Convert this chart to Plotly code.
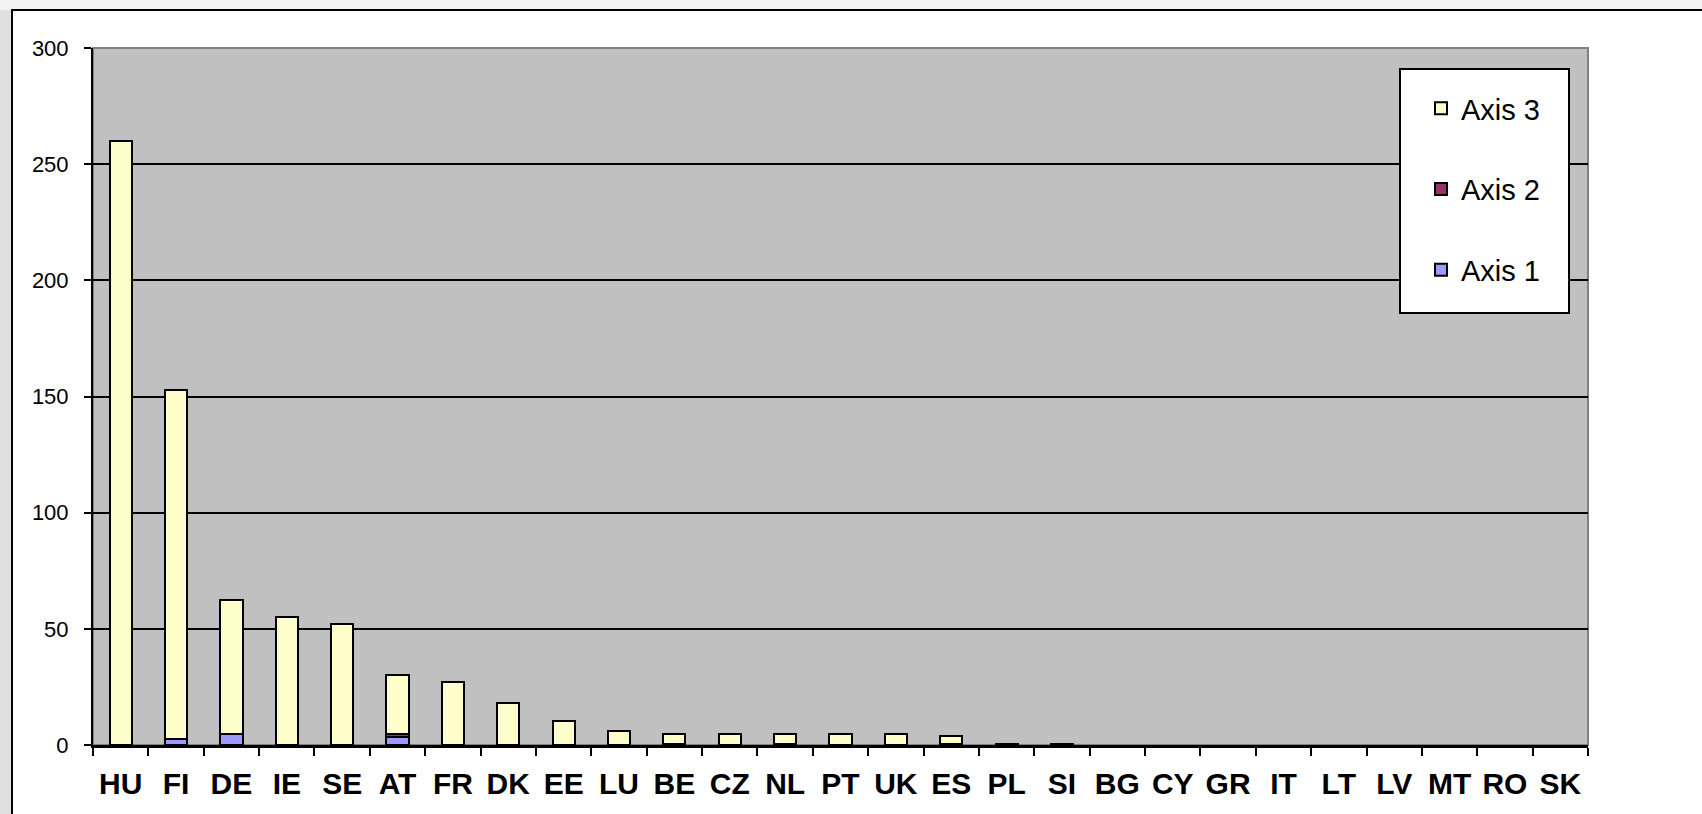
import plotly.graph_objects as go

countries = ["HU", "FI", "DE", "IE", "SE", "AT", "FR", "DK", "EE", "LU", "BE", "CZ", "NL",
             "PT", "UK", "ES", "PL", "SI", "BG", "CY", "GR", "IT", "LT", "LV", "MT", "RO", "SK"]
N = None  # no value reported
axis1 = [N, 2.7, 4.8, N, N, 3.4, N, N, N, N, N, N, N, N, N, N, N, N, N, N, N, N, N, N, N, N, N]
axis2 = [N, N, N, N, N, 1.4, N, N, N, N, 0.5, N, 0.5, N, N, 0.5, 0.3, 0.3, N, N, N, N, N, N, N, N, N]
axis3 = [260, 150, 57.4, 55, 52, 25.4, 27, 18.2, 10.3, 6.2, 4.2, 4.7, 4.2, 4.7, 4.7, 3.5, N, N,
         N, N, N, N, N, N, N, N, N]

series_names = ["Axis 1", "Axis 2", "Axis 3"]
series_values = [axis1, axis2, axis3]
series_colors = ["#9999ff", "#993366", "#ffffcc"]
legend_ranks = [3, 2, 1]

W, H = 1702, 814
L, R, T, B = 93, 114, 48, 69
pw, ph = W - L - R, H - T - B


def px_x(p):
    return (p - L) / pw


def px_y(p):
    return (H - B - p) / ph


FONT = "Liberation Sans, Arial, sans-serif"

fig = go.Figure()
for name, vals, col, rk in zip(series_names, series_values, series_colors, legend_ranks):
    fig.add_trace(go.Bar(
        x=countries, y=vals, name=name, legendgroup=name, legendrank=rk,
        marker=dict(color=col, line=dict(color="black", width=2)),
        width=0.40,
    ))

shapes = [
    # outer grey margins
    dict(type="rect", xref="paper", yref="paper", x0=-1, x1=px_x(12), y0=-1, y1=2,
         fillcolor="#e0e0e0", line=dict(width=0), layer="below"),
    dict(type="rect", xref="paper", yref="paper", x0=-1, x1=2, y0=px_y(10), y1=2,
         fillcolor="#f3f3f3", line=dict(width=0), layer="below"),
    # chart frame
    dict(type="rect", xref="paper", yref="paper", x0=px_x(12), x1=1.5, y0=-0.5, y1=px_y(10),
         fillcolor="rgba(0,0,0,0)", line=dict(color="black", width=2), layer="below"),
    # plot area border (grey)
    dict(type="rect", xref="paper", yref="paper", x0=0, x1=1, y0=0, y1=1,
         fillcolor="rgba(0,0,0,0)", line=dict(color="#808080", width=2), layer="below"),
    # legend box
    dict(type="rect", xref="paper", yref="paper", x0=px_x(1400), x1=px_x(1569),
         y0=px_y(313), y1=px_y(69), fillcolor="white",
         line=dict(color="black", width=2), layer="above"),
]

fig.update_layout(
    width=W, height=H,
    margin=dict(l=L, r=R, t=T, b=B, pad=0, autoexpand=False),
    paper_bgcolor="white",
    plot_bgcolor="#c0c0c0",
    barmode="stack",
    font=dict(family=FONT, color="black"),
    showlegend=True,
    legend=dict(
        x=px_x(1421), y=px_y(83), xanchor="left", yanchor="top",
        bgcolor="rgba(0,0,0,0)", borderwidth=0,
        font=dict(family=FONT, size=29, color="black"),
        traceorder="grouped", tracegroupgap=40,
    ),
    shapes=shapes,
    xaxis=dict(
        type="category", tickson="boundaries", ticks="outside", ticklen=8,
        tickwidth=2, tickcolor="black", showline=True, linecolor="black", linewidth=2.5,
        tickfont=dict(family=FONT, size=30, color="black", weight="bold"),
        ticklabelstandoff=10,
        showgrid=False, range=[-0.5, len(countries) - 0.5],
    ),
    yaxis=dict(
        range=[0, 300], dtick=50, tick0=0, ticks="outside", ticklen=7, tickwidth=2,
        tickcolor="black", showline=True, linecolor="black", linewidth=2,
        showgrid=True, gridcolor="black", gridwidth=1.5, zeroline=False,
        tickfont=dict(family=FONT, size=22, color="black"),
        ticklabelstandoff=11,
    ),
)

fig.write_html("out.html", config={"displayModeBar": False},
               post_script="document.body.style.margin='0';")
